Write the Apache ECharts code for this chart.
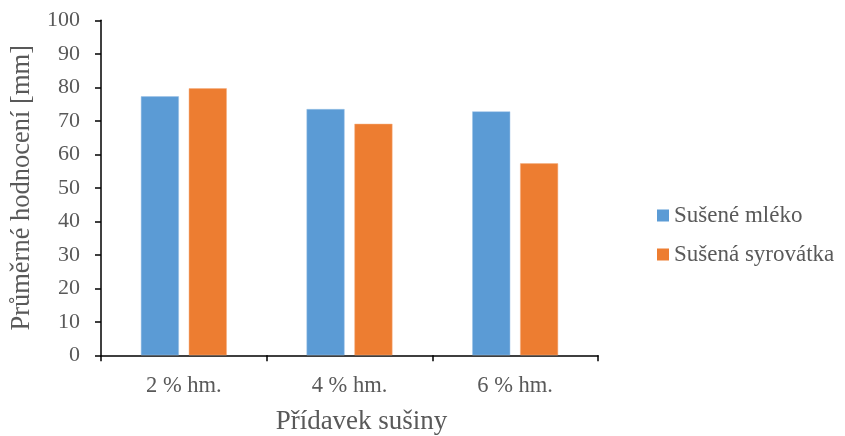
<!DOCTYPE html>
<html>
<head>
<meta charset="utf-8">
<script src="https://cdn.jsdelivr.net/npm/echarts@6/dist/echarts.min.js"></script>
<style>html,body{margin:0;padding:0;background:#fff;}#c{width:845px;height:436px;}</style>
</head>
<body>
<div id="c"></div>
<script>
const categories = ['2 % hm.', '4 % hm.', '6 % hm.'];
const seriesNames = ['Sušené mléko', 'Sušená syrovátka'];
const milk = [77.3, 73.5, 72.8];
const whey = [79.7, 69.1, 57.3];
const yTicks = [0, 10, 20, 30, 40, 50, 60, 70, 80, 90, 100];

const font = 'Liberation Serif';
const chart = echarts.init(document.getElementById('c'), null, {renderer: 'canvas'});
chart.setOption({
  animation: false,
  backgroundColor: '#fff',
  grid: {left: 101, right: 247, top: 20.3, bottom: 80.7, containLabel: false, outerBoundsMode: 'none'},
  legend: {
    orient: 'vertical',
    left: 652,
    top: 199,
    itemWidth: 12,
    itemHeight: 12,
    itemGap: 16,
    icon: 'rect',
    itemStyle: {borderWidth: 0},
    textStyle: {fontFamily: font, fontSize: 23, color: '#595959'},
    data: seriesNames
  },
  xAxis: {
    type: 'category',
    data: categories,
    name: 'Přídavek sušiny',
    nameLocation: 'middle',
    nameGap: 53,
    nameTextStyle: {fontFamily: font, fontSize: 27, color: '#595959', padding: [0, 0, 0, 24]},
    axisLine: {lineStyle: {color: '#000', width: 1.5}},
    axisTick: {show: true, length: 6, lineStyle: {color: '#000', width: 1.5}},
    axisLabel: {fontFamily: font, fontSize: 22.5, color: '#595959', margin: 19},
    splitLine: {show: false}
  },
  yAxis: {
    type: 'value',
    min: yTicks[0],
    max: yTicks[yTicks.length - 1],
    interval: 10,
    name: 'Průměrné hodnocení [mm]',
    nameLocation: 'middle',
    nameGap: 65,
    nameTextStyle: {fontFamily: font, fontSize: 26.5, color: '#595959'},
    axisLine: {show: true, lineStyle: {color: '#000', width: 1.5}},
    axisTick: {show: true, length: 6, lineStyle: {color: '#000', width: 1.5}},
    axisLabel: {fontFamily: font, fontSize: 22, color: '#595959', margin: 21},
    splitLine: {show: false}
  },
  series: [
    {
      name: seriesNames[0], type: 'bar', data: milk,
      barWidth: 38, barGap: '26%',
      itemStyle: {color: '#5B9BD5', borderColor: '#9DC3E6', borderWidth: 0.5}
    },
    {
      name: seriesNames[1], type: 'bar', data: whey,
      barWidth: 38, barGap: '26%',
      itemStyle: {color: '#ED7D31', borderColor: '#F4B183', borderWidth: 0.5}
    }
  ]
});
</script>
</body>
</html>
